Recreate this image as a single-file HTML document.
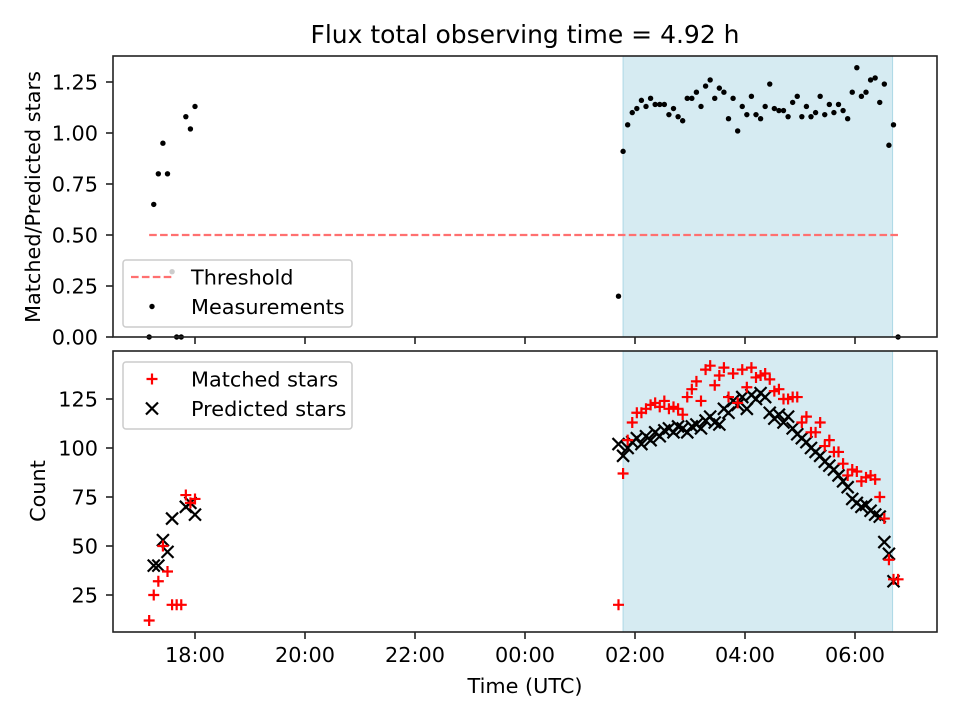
<!DOCTYPE html>
<html><head><meta charset="utf-8"><style>
html,body{margin:0;padding:0;background:#fff}
svg text{font-family:"DejaVu Sans","Liberation Sans",sans-serif;fill:#000}
</style></head><body>
<svg id="chart" width="960" height="720" viewBox="0 0 960 720" xmlns="http://www.w3.org/2000/svg">
<rect width="960" height="720" fill="#fff"/>
<text x="525" y="43" font-size="25" text-anchor="middle">Flux total observing time = 4.92 h</text>
<g id="topg"></g><g id="botg"></g>
</svg>
<script>
const timesEarly = ["17:10","17:15","17:20","17:25","17:30","17:35","17:40","17:45","17:50","17:55","18:00"];
const ratioEarly = [0,0.65,0.80,0.95,0.80,0.32,0,0,1.08,1.02,1.13];
const matchedEarly = [12,25,32,50,37,20,20,20,76,72,74];
const predictedEarly = [null,40,40,53,47,64,null,null,70,72,66];
const timesLate = ["01:42","01:47","01:52","01:57","02:02","02:07","02:12","02:17","02:22","02:27","02:32","02:37","02:42","02:47","02:52","02:57","03:02","03:07","03:12","03:17","03:22","03:27","03:32","03:37","03:42","03:47","03:52","03:57","04:02","04:07","04:12","04:17","04:22","04:27","04:32","04:37","04:42","04:47","04:52","04:57","05:02","05:07","05:12","05:17","05:22","05:27","05:32","05:37","05:42","05:47","05:52","05:57","06:02","06:07","06:12","06:17","06:22","06:27","06:32","06:37","06:42","06:47"];
const ratioLate = [0.20,0.91,1.04,1.10,1.12,1.16,1.13,1.17,1.14,1.14,1.14,1.09,1.12,1.08,1.06,1.17,1.17,1.20,1.13,1.23,1.26,1.17,1.22,1.20,1.07,1.17,1.01,1.13,1.09,1.18,1.09,1.07,1.13,1.24,1.12,1.11,1.11,1.08,1.15,1.18,1.08,1.13,1.08,1.10,1.18,1.09,1.14,1.10,1.14,1.11,1.07,1.20,1.32,1.18,1.20,1.26,1.27,1.15,1.24,0.94,1.04,0];
const predictedLate = [102,96,100,103,105,102,106,104,108,106,109,110,108,111,110,108,111,112,110,114,116,113,112,120,118,124,122,126,120,127,125,128,126,118,115,117,113,116,110,107,105,103,100,98,96,93,91,89,86,83,80,74,72,70,71,68,66,65,52,46,32,null];
const matchedLate = [20,87,104,113,118,118,120,122,123,121,124,120,121,120,117,126,130,134,124,140,142,132,137,141,126,138,123,140,131,141,136,137,138,135,129,130,125,125,126,126,113,116,108,108,113,101,104,98,98,92,86,89,88,83,85,86,84,75,64,43,33,33];
const yTicksTop = [0,0.25,0.5,0.75,1.0,1.25];
const yTicksBot = [25,50,75,100,125];
const xTickLabels = ["18:00","20:00","22:00","00:00","02:00","04:00","06:00"];
const xTickHours = [18,20,22,24,26,28,30];
const threshold = 0.5, thrStart = "17:10", thrEnd = "06:47";
const shadeStart = "01:47", shadeEnd = "06:41";

const NS="http://www.w3.org/2000/svg";
const L=113,R=937,FS=20.8;
const TOPA={t:56,b:337}, BOTA={t:351,b:632};
function hrs(s){const [h,m]=s.split(":").map(Number);let v=h+m/60;if(v<12)v+=24;return v;}
function X(h){return 195+(h-18)*55;}
function Yt(v){return 337-v*204;}
function Yb(v){return 644-v*1.96;}
function mk(tag,attrs,parent){const e=document.createElementNS(NS,tag);for(const k in attrs)e.setAttribute(k,attrs[k]);parent.appendChild(e);return e;}
const gTop=document.getElementById('topg'), gBot=document.getElementById('botg');
const times=timesEarly.concat(timesLate).map(hrs);
const ratio=ratioEarly.concat(ratioLate), matched=matchedEarly.concat(matchedLate), pred=predictedEarly.concat(predictedLate);

[[gTop,TOPA],[gBot,BOTA]].forEach(([g,a],i)=>{
  const s=mk('rect',{x:X(hrs(shadeStart)),y:a.t,width:X(hrs(shadeEnd))-X(hrs(shadeStart)),height:a.b-a.t,fill:'#add8e6','fill-opacity':0.5,stroke:'#add8e6','stroke-width':1},g);
  
  
});
const th=mk('line',{x1:X(hrs(thrStart)),x2:X(hrs(thrEnd)),y1:Yt(threshold),y2:Yt(threshold),stroke:'#ff7070','stroke-width':2.2,'stroke-dasharray':'7.6,3.3'},gTop);


times.forEach((t,i)=>{const c=mk('circle',{cx:X(t),cy:Yt(ratio[i]),r:2.7,fill:'#000'},gTop);

});
times.forEach((t,i)=>{if(pred[i]==null)return;const x=X(t),y=Yb(pred[i]),d=6;
const p=mk('path',{d:`M${x-d},${y-d}L${x+d},${y+d}M${x-d},${y+d}L${x+d},${y-d}`,stroke:'#000','stroke-width':2.2},gBot);

});
times.forEach((t,i)=>{if(matched[i]==null)return;const x=X(t),y=Yb(matched[i]),d=5.5;
const p=mk('path',{d:`M${x-d},${y}L${x+d},${y}M${x},${y-d}L${x},${y+d}`,stroke:'#f00','stroke-width':2.2},gBot);

});
[[gTop,TOPA],[gBot,BOTA]].forEach(([g,a],i)=>{
  const f=mk('rect',{x:L,y:a.t,width:R-L,height:a.b-a.t,fill:'none',stroke:'#222','stroke-width':1.6},g);
  
  
  xTickHours.forEach((h,k)=>{mk('line',{x1:X(h),x2:X(h),y1:a.b,y2:a.b+7,stroke:'#222','stroke-width':1.6},g);
    if(i){const tx=mk('text',{x:X(h),y:a.b+30,'font-size':FS,'text-anchor':'middle'},g);tx.textContent=xTickLabels[k];
    
    }});
});
yTicksTop.forEach(v=>{const y=Yt(v);mk('line',{x1:L-7,x2:L,y1:y,y2:y,stroke:'#222','stroke-width':1.6},gTop);
const t=mk('text',{x:L-15,y:y+7.5,'font-size':FS,'text-anchor':'end'},gTop);t.textContent=v.toFixed(2);

});
yTicksBot.forEach(v=>{const y=Yb(v);mk('line',{x1:L-7,x2:L,y1:y,y2:y,stroke:'#222','stroke-width':1.6},gBot);
const t=mk('text',{x:L-15,y:y+7.5,'font-size':FS,'text-anchor':'end'},gBot);t.textContent=String(v);

});
function label(txt,x,y,rot,name){const t=mk('text',{x:x,y:y,'font-size':FS,'text-anchor':'middle',transform:rot?`rotate(-90 ${x} ${y})`:''},gTop);t.textContent=txt;

}
label('Matched/Predicted stars',40,197,true,'y-axis-title-top');
label('Count',45,491,true,'y-axis-title-bottom');
label('Time (UTC)',525,693,false,'x-axis-title');
function legend(g,y0,items,name){const lg=mk('g',{},g);


mk('rect',{x:123,y:y0,width:229,height:67,rx:3,fill:'#fff','fill-opacity':0.8,stroke:'#ccc','stroke-width':1.5},lg);
items.forEach((it,k)=>{const cy=y0+17+k*29.5;const sx=152;
 if(it.k==='dash')mk('line',{x1:131,x2:173,y1:cy,y2:cy,stroke:'#ff7070','stroke-width':2.2,'stroke-dasharray':'7.6,3.3'},lg);
 if(it.k==='dot')mk('circle',{cx:sx,cy:cy,r:2.7,fill:'#000'},lg);
 if(it.k==='plus')mk('path',{d:`M${sx-5.5},${cy}L${sx+5.5},${cy}M${sx},${cy-5.5}L${sx},${cy+5.5}`,stroke:'#f00','stroke-width':2.2},lg);
 if(it.k==='x')mk('path',{d:`M${sx-6},${cy-6}L${sx+6},${cy+6}M${sx-6},${cy+6}L${sx+6},${cy-6}`,stroke:'#000','stroke-width':2.2},lg);
 const t=mk('text',{x:191,y:cy+7.5,'font-size':FS},lg);t.textContent=it.t;});}
legend(gTop,260,[{k:'dash',t:'Threshold'},{k:'dot',t:'Measurements'}],'legend-top');
legend(gBot,362,[{k:'plus',t:'Matched stars'},{k:'x',t:'Predicted stars'}],'legend-bottom');
</script>
</body></html>
